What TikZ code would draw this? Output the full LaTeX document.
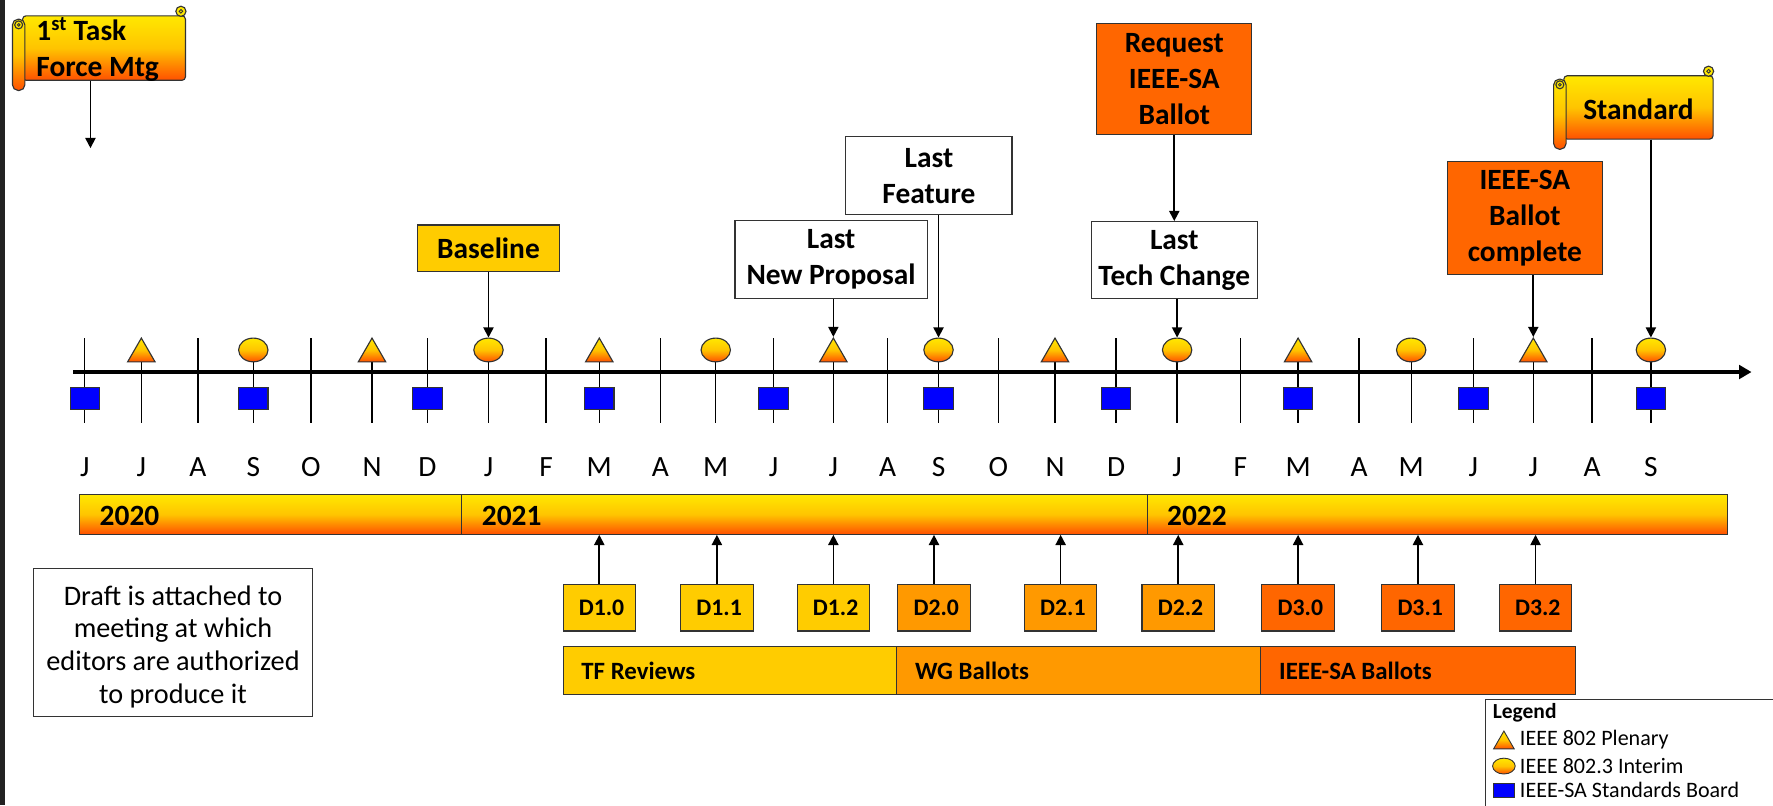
\documentclass[tikz,border=0pt]{standalone}
\usepackage{fontspec}
\setmainfont{Carlito}
\usetikzlibrary{arrows.meta,shapes.geometric}
\definecolor{gold}{HTML}{FFCC00}
\definecolor{amber}{HTML}{FF9900}
\definecolor{deeporange}{HTML}{FF6600}
\definecolor{gtop}{RGB}{255,232,0}
\definecolor{gmid}{RGB}{255,196,0}
\definecolor{gbot}{RGB}{255,80,0}
\definecolor{sqblue}{HTML}{0000FF}
\definecolor{edge}{HTML}{333333}
\definecolor{strip}{HTML}{222222}
\tikzset{
  grad/.style={top color=gtop, bottom color=gbot, middle color=gmid},
  box/.style={draw=edge, line width=1pt, inner sep=0pt, align=center},
  callout/.style={box, font=\fontsize{26}{32}\selectfont\bfseries},
  arr/.style={line width=1.5pt, -{Triangle[length=9pt,width=9pt]}},
  tickline/.style={line width=1.2pt},
  axisline/.style={line width=3.5pt, -{Triangle[length=11pt,width=12pt]}},
  tri/.style={regular polygon, regular polygon sides=3, minimum size=28pt, inner sep=0pt, grad, draw=edge, line width=1pt},
  ell/.style={ellipse, minimum width=26pt, minimum height=21pt, inner sep=0pt, grad, draw=edge, line width=1pt},
  sq/.style={rectangle, minimum width=26pt, minimum height=20pt, inner sep=0pt, fill=sqblue, draw=edge, line width=1pt},
  month/.style={font=\fontsize{26}{30}\selectfont, inner sep=0pt},
  yearbar/.style={draw=edge, line width=1pt, grad, inner sep=0pt, minimum height=35pt, anchor=north west},
  yearlbl/.style={font=\fontsize{26}{30}\selectfont\bfseries, anchor=west, inner sep=0pt},
  draft/.style={box, minimum width=64pt, minimum height=41pt, font=\fontsize{21}{25}\selectfont\bfseries},
  phase/.style={draw=edge, line width=1pt, inner sep=0pt, minimum height=43pt, anchor=north west},
  phaselbl/.style={font=\fontsize{22}{26}\selectfont\bfseries, anchor=west, inner sep=0pt},
  leglbl/.style={font=\fontsize{19.5}{23}\selectfont, anchor=west, inner sep=0pt},
  scrolltxt/.style={font=\fontsize{26}{32}\selectfont\bfseries, inner sep=0pt},
}
\newcommand\drawscroll[4]{%
  \path[draw=edge, line width=1pt, rounded corners=3pt, grad] (#1,#2) rectangle (#3,#4);
  \path[draw=edge, line width=1pt, fill=gtop] ({#3-4},{#2-4}) circle (4.5pt);
  \path[draw=edge, line width=0.8pt] ({#3-4},{#2-4}) circle (1.6pt);
  \path[draw=edge, line width=1pt, rounded corners=5pt, grad] ({#1-9},{#2+3}) rectangle ({#1+2},{#4+9});
  \path[draw=edge, line width=1pt, fill=gtop] ({#1-3.5},{#2+8}) circle (3.5pt);
  \path[draw=edge, line width=0.8pt] ({#1-3.5},{#2+8}) circle (1.2pt);
}
\begin{document}
\begin{tikzpicture}[x=1pt,y=-1pt]
\useasboundingbox (0,0) rectangle (1568,712);
\fill[strip] (0,0) rectangle (4.5,712);

% month ticks and labels
\foreach \x/\m [count=\i] in {75/J,125/J,175/A,224/S,275/O,329/N,378/D,432/J,483/F,530/M,584/A,633/M,684/J,737/J,785/A,830/S,883/O,933/N,987/D,1041/J,1097/F,1148/M,1202/A,1248/M,1303/J,1356/J,1408/A,1460/S}{
  \draw[tickline] (\x,299) -- (\x,374);
  \node[month] (m\i) at (\x,413) {\m};
}
% axis
\coordinate (axs) at (65,329);
\coordinate (axe) at (1549,329);
\draw[axisline] (axs) -- (axe);

% markers
\foreach \x [count=\i] in {125,329,530,737,933,1148,1356}{
  \node[tri] (t\i) at (\x,313) {};
}
\foreach \x [count=\i] in {224,432,633,830,1041,1248,1460}{
  \node[ell] (e\i) at (\x,309.5) {};
}
\foreach \x [count=\i] in {75,224,378,530,684,830,987,1148,1303,1460}{
  \node[sq] (s\i) at (\x,352.5) {};
}

% year bar
\node[yearbar, minimum width=338pt] (y20) at (70,437) {};
\node[yearbar, minimum width=606pt] (y21) at (408,437) {};
\node[yearbar, minimum width=513pt] (y22) at (1014,437) {};
\node[yearlbl] (l20) at (88,456) {2020};
\node[yearlbl] (l21) at (426,456) {2021};
\node[yearlbl] (l22) at (1032,456) {2022};

% drafts
\foreach \x/\t/\c [count=\i] in {530/D1.0/gold,634/D1.1/gold,737/D1.2/gold,826/D2.0/amber,938/D2.1/amber,1042/D2.2/amber,1148/D3.0/deeporange,1254/D3.1/deeporange,1358/D3.2/deeporange}{
  \node[draft, fill=\c] (d\i) at (\x,537.5) {\hspace{4pt}\t};
  \draw[arr] (d\i.north) -- (d\i.north |- y21.south);
}

% phases
\node[phase, fill=gold, minimum width=294pt] (tf) at (498,571) {};
\node[phase, fill=amber, minimum width=322pt] (wg) at (792,571) {};
\node[phase, fill=deeporange, minimum width=279pt] (sa) at (1114,571) {};
\node[phaselbl] (tfl) at (514,593) {TF Reviews};
\node[phaselbl] (wgl) at (809,593) {WG Ballots};
\node[phaselbl] (sal) at (1131,593) {IEEE-SA Ballots};

% note
\node[box, minimum width=246pt, minimum height=131pt] (note) at (153,568.5) {};
\node[font=\fontsize{25}{29}\selectfont, align=center, inner sep=0pt] (notet) at (153,572) {Draft is attached to\\meeting at which\\editors are authorized\\to produce it};

% callouts
\node[callout, fill=gold, minimum width=126pt, minimum height=41pt] (base) at (432,219.5) {Baseline};
\draw[arr] (base.south) -- (e2.north);
\node[callout, fill=white, minimum width=170pt, minimum height=69pt] (lnp) at (735,229.5) {Last\\New Proposal};
\draw[arr] (t4 |- lnp.south) -- (t4.north);
\node[callout, fill=white, minimum width=147pt, minimum height=69pt] (lf) at (821.5,155.5) {Last\\Feature};
\draw[arr] (e4 |- lf.south) -- (e4.north);
\node[callout, fill=deeporange, minimum width=137pt, minimum height=98pt] (req) at (1038.5,70) {Request\\IEEE-SA\\Ballot};
\node[callout, fill=white, minimum width=147pt, minimum height=68pt] (ltc) at (1038.5,230) {Last\\Tech Change};
\draw[arr] (req.south) -- (ltc.north);
\draw[arr] (e5 |- ltc.south) -- (e5.north);
\node[callout, fill=deeporange, minimum width=137pt, minimum height=100pt] (ibc) at (1348.5,193) {IEEE-SA\\Ballot\\complete};
\draw[arr] (t7 |- ibc.south) -- (t7.north);

% scrolls
\drawscroll{20}{14}{164}{71}
\node[inner sep=0pt, minimum width=144pt, minimum height=57pt, anchor=north west] (tfs) at (20,14) {};
\node[scrolltxt, anchor=west, align=left] (tft) at (32,44) {1\textsuperscript{st} Task\\Force Mtg};
\coordinate (tfend) at (80,131);
\draw[arr] (tfend |- tfs.south) -- (tfend);

\drawscroll{1383}{67}{1515}{123}
\node[inner sep=0pt, minimum width=132pt, minimum height=56pt, anchor=north west] (stds) at (1383,67) {};
\node[scrolltxt] (stdt) at (1449,97) {Standard};
\draw[arr] (e7 |- stds.south) -- (e7.north);

% legend
\begin{scope}
\clip (0,0) rectangle (1568,712);
\node[draw=edge, line width=1pt, fill=white, minimum width=270pt, minimum height=110pt, anchor=north west, inner sep=0pt] (leg) at (1313,618) {};
\end{scope}
\node[font=\fontsize{19}{23}\selectfont\bfseries, anchor=west, inner sep=0pt] (legt) at (1320,630) {Legend};
\node[regular polygon, regular polygon sides=3, minimum size=21pt, inner sep=0pt, grad, draw=edge, line width=0.8pt] (lgt) at (1330,657) {};
\node[ellipse, minimum width=20pt, minimum height=14pt, inner sep=0pt, grad, draw=edge, line width=0.8pt] (lge) at (1330,677.5) {};
\node[rectangle, minimum width=18pt, minimum height=13pt, inner sep=0pt, fill=sqblue, draw=edge, line width=0.8pt] (lgs) at (1330,699) {};
\node[leglbl] (lgtl) at (1344,654) {IEEE 802 Plenary};
\node[leglbl] (lgel) at (1344,677) {IEEE 802.3 Interim};
\node[leglbl] (lgsl) at (1344,699) {IEEE-SA Standards Board};
\end{tikzpicture}
\end{document}
